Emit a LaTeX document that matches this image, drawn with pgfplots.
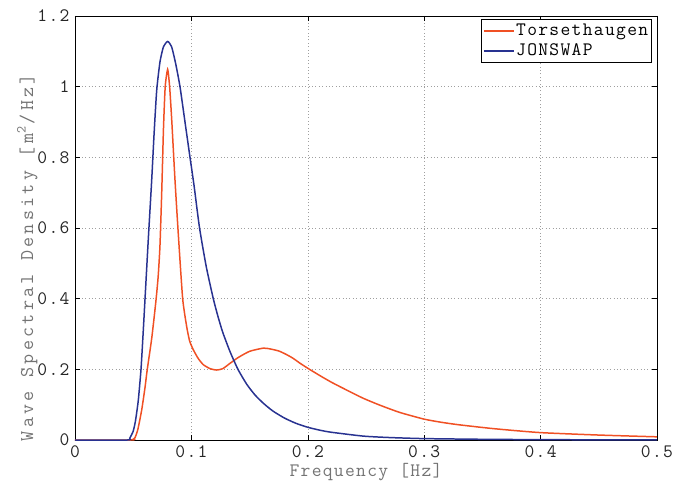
\documentclass[border=0pt]{standalone}
\usepackage{fontspec}
\setmainfont{Latin Modern Mono}[LetterSpace=7]
\newfontfamily\ylabfont{Latin Modern Mono}[LetterSpace=17]
\usepackage{pgfplots}
\pgfplotsset{compat=1.18}
\definecolor{tor}{RGB}{240,80,36}
\definecolor{jon}{RGB}{40,50,145}
\begin{document}
\fontsize{19bp}{21bp}\selectfont
\begin{tikzpicture}
\begin{axis}[
  at={(0,0)}, anchor=south west,
  scale only axis, width=582bp, height=424bp,
  xmin=0, xmax=0.5, ymin=0, ymax=1.2,
  xtick={0,0.1,0.2,0.3,0.4,0.5},
  ytick={0,0.2,0.4,0.6,0.8,1,1.2},
  xticklabels={0,0.1,0.2,0.3,0.4,0.5},
  yticklabels={0,0.2,0.4,0.6,0.8,1,1.2},
  tick align=inside, tick pos=both,
  major tick length=5bp,
  grid=major,
  major grid style={dash pattern=on 0.8pt off 2.6pt, gray!75, line width=0.6pt},
  axis line style={black, line width=0.6pt},
  tick style={black, line width=0.6pt},
  ticklabel style={font=\fontsize{19bp}{21bp}\selectfont, text=black!85},
  xticklabel style={yshift=1bp},
  yticklabel style={xshift=1bp},
  xlabel={Frequency [Hz]},
  ylabel={Wave Spectral Density [m\textsuperscript{2}\hspace{2bp}/Hz]},
  label style={font=\fontsize{19bp}{21bp}\selectfont, text=black!55},
  xlabel style={yshift=7bp},
  ylabel style={font=\ylabfont\fontsize{19.5bp}{21bp}\selectfont, at={(ticklabel cs:0.43)}, yshift=-13bp},
  legend style={at={(1,1)}, anchor=north east, xshift=-5bp, yshift=-3bp,
    font=\fontsize{19bp}{21bp}\selectfont, draw=black, line width=0.6pt,
    inner xsep=2bp, inner ysep=1.5bp, row sep=0bp,
    nodes={inner sep=1.5bp, text height=13bp, text depth=4bp}},
  legend cell align=left,
  legend image code/.code={\draw[#1, line width=1.6pt] (0bp,0bp) -- (30bp,0bp);},
]
\addplot[tor, line width=1.5pt, smooth, tension=0.35] coordinates {
(0,0) (0.048,0) (0.05,0.002) (0.0515,0.006) (0.054,0.03) (0.0573,0.085) (0.06,0.145)
(0.0621,0.2) (0.066,0.29) (0.0696,0.396) (0.0715,0.465) (0.073,0.55) (0.0745,0.70)
(0.076,0.88) (0.0775,1.0) (0.0796,1.049) (0.0813,1.0) (0.0831,0.906) (0.0859,0.736)
(0.0888,0.58) (0.0925,0.4) (0.096,0.32) (0.0985,0.28) (0.1017,0.255) (0.106,0.23)
(0.1103,0.213) (0.116,0.202) (0.1217,0.198) (0.127,0.202) (0.1332,0.217) (0.14,0.233)
(0.15,0.251) (0.1618,0.26) (0.168,0.2575) (0.175,0.252) (0.181,0.243) (0.187,0.232)
(0.193,0.218) (0.2,0.203) (0.21,0.183) (0.22,0.164) (0.233,0.142) (0.2477,0.118)
(0.262,0.0985) (0.279,0.078) (0.3,0.059) (0.315,0.05) (0.33,0.043) (0.36,0.032) (0.3995,0.021)
(0.45,0.014) (0.5,0.009)
};
\addlegendentry{Torsethaugen}
\addplot[jon, line width=1.5pt, smooth, tension=0.35] coordinates {
(0,0) (0.045,0) (0.047,0.005) (0.05,0.025) (0.052,0.055) (0.0544,0.113) (0.0567,0.2)
(0.0585,0.3) (0.0601,0.396) (0.063,0.57) (0.0659,0.736) (0.068,0.87) (0.0702,0.99)
(0.073,1.07) (0.076,1.113) (0.0796,1.128) (0.083,1.113) (0.0865,1.065) (0.0902,1.0)
(0.0945,0.9) (0.0988,0.8) (0.1022,0.722) (0.107,0.6) (0.1128,0.49) (0.1188,0.4)
(0.1228,0.35) (0.1269,0.305) (0.1332,0.25) (0.14,0.2) (0.1475,0.158) (0.1545,0.128)
(0.1618,0.104) (0.17,0.082) (0.18,0.062) (0.19,0.047) (0.2,0.036) (0.21,0.028)
(0.22,0.022) (0.2477,0.011) (0.27,0.007) (0.299,0.004) (0.35,0.002) (0.4,0.001)
(0.45,0.0005) (0.5,0.0003)
};
\addlegendentry{JONSWAP}
\end{axis}
\pgfresetboundingbox
\useasboundingbox (-75bp,-43bp) rectangle (613bp,440bp);
\end{tikzpicture}
\end{document}
